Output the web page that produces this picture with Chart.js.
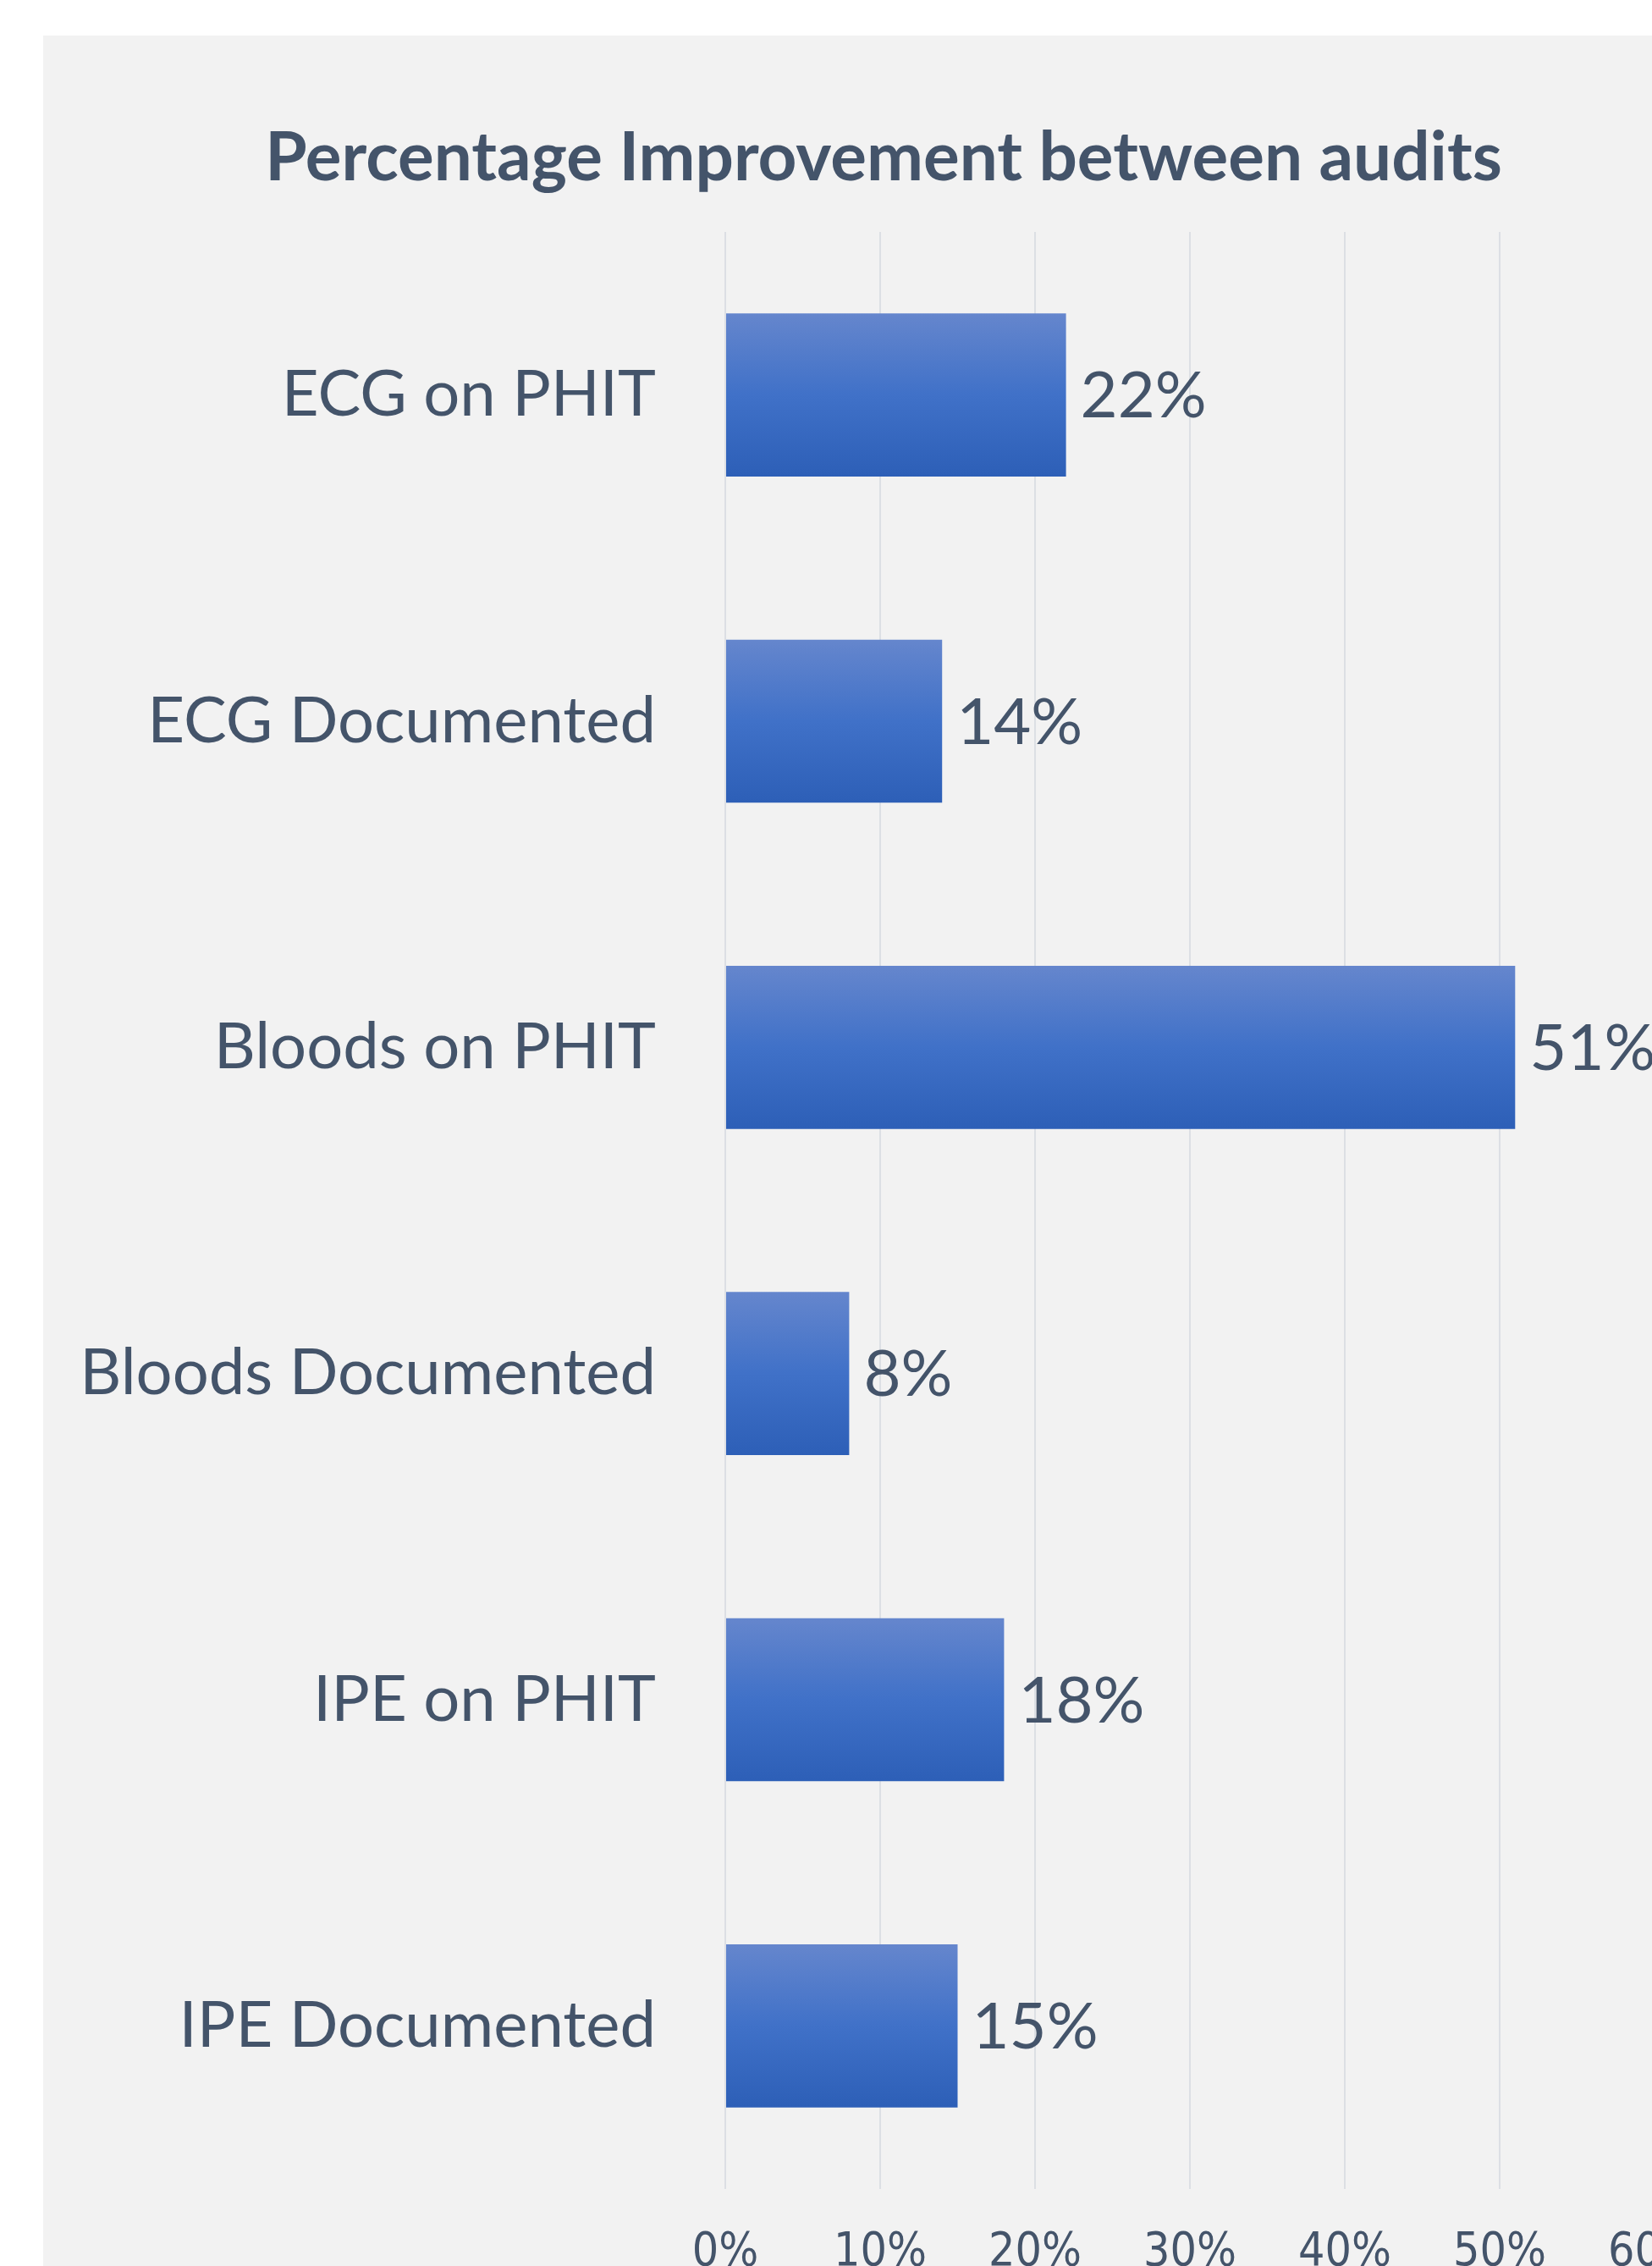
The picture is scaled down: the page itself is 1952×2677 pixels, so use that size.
<!DOCTYPE html>
<html>
<head>
<meta charset="utf-8">
<script src="https://cdn.jsdelivr.net/npm/chart.js@4.4.1/dist/chart.umd.min.js"></script>
<style>
  html, body { margin: 0; padding: 0; background: #ffffff; overflow: hidden; }
  #panel { position: absolute; left: 51px; top: 42px; width: 1986px; height: 2720px; background: #f2f2f2; }
</style>
</head>
<body>
<div id="panel"><canvas id="chart"></canvas></div>
<script>
// Data
const categories = ["ECG on PHIT", "ECG Documented", "Bloods on PHIT", "Bloods Documented", "IPE on PHIT", "IPE Documented"];
const improvement = [22, 14, 51, 8, 18, 15];
const xMin = 0;
const xMax = 60;
const xStep = 10;
const chartTitle = "Percentage Improvement between audits";

const textColor = "#44546a";
const fontFamily = "Lato, 'Open Sans', sans-serif";
const narrowFamily = "'Liberation Sans Narrow', 'DejaVu Sans Condensed', Lato, sans-serif";
const fontSize = 76;

// Value labels to the right of each bar
const valueLabels = {
  id: "valueLabels",
  afterDatasetsDraw(chart) {
    const c = chart.ctx;
    const meta = chart.getDatasetMeta(0);
    c.save();
    c.font = `${fontSize}px ${fontFamily}`;
    c.fillStyle = textColor;
    c.textAlign = "left";
    c.textBaseline = "middle";
    meta.data.forEach((bar, i) => {
      c.fillText(improvement[i] + "%", bar.x + 17, bar.y + 2);
    });
    c.restore();
  }
};

// Vertical gradient for each bar
const barFill = (context) => {
  const chart = context.chart;
  if (!chart.chartArea) return "#4472c4";
  const yScale = chart.scales.y;
  const yc = yScale.getPixelForValue(context.dataIndex);
  const h = (yScale.height / categories.length) * 0.5;
  const g = chart.ctx.createLinearGradient(0, yc - h / 2, 0, yc + h / 2);
  g.addColorStop(0, "#6586cd");
  g.addColorStop(0.5, "#4071c8");
  g.addColorStop(1, "#2d5fb7");
  return g;
};

new Chart(document.getElementById("chart"), {
  type: "bar",
  plugins: [valueLabels],
  data: {
    labels: categories,
    datasets: [{
      data: improvement,
      backgroundColor: barFill,
      borderWidth: 0,
      barPercentage: 0.5,
      categoryPercentage: 1.0,
    }],
  },
  options: {
    indexAxis: "y",
    responsive: true,
    maintainAspectRatio: false,
    animation: false,
    layout: { padding: 0 },
    plugins: {
      legend: { display: false },
      tooltip: { enabled: false },
      title: {
        display: true,
        text: chartTitle,
        color: textColor,
        font: { family: fontFamily, size: 80, weight: "bold" },
        padding: { top: 97, bottom: 39 },
      },
    },
    scales: {
      x: {
        min: xMin,
        max: xMax,
        grid: { color: "#dcdfe4", lineWidth: 2, drawTicks: false },
        border: { display: false },
        ticks: {
          stepSize: xStep,
          color: textColor,
          padding: 43,
          maxRotation: 0,
          autoSkip: false,
          font: { family: narrowFamily, size: 55 },
          callback: (v) => v + "%",
        },
        afterFit: (scale) => {
          scale.height = 176;
          scale.paddingRight = 82;
        },
      },
      y: {
        grid: { display: false, drawTicks: false },
        border: { display: false },
        ticks: {
          color: textColor,
          padding: 82,
          font: { family: fontFamily, size: fontSize },
        },
        afterFit: (scale) => {
          scale.width = 806;
        },
      },
    },
  },
});
</script>
</body>
</html>
